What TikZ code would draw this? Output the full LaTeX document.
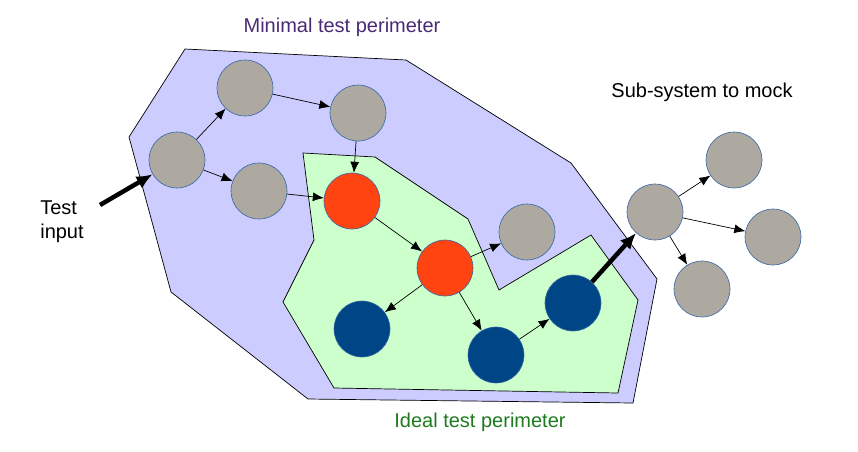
\documentclass[tikz,border=0pt]{standalone}
\usepackage{fontspec}
\setmainfont{Liberation Sans}
\usetikzlibrary{arrows.meta}
\definecolor{pblue}{HTML}{CCCCFF}
\definecolor{pgreen}{HTML}{CCFFCC}
\definecolor{cgray}{HTML}{ADA8A0}
\definecolor{cred}{HTML}{FF4411}
\definecolor{cnavy}{HTML}{004586}
\definecolor{cedge}{HTML}{3465A4}
\definecolor{tpurple}{HTML}{4B2A75}
\definecolor{tgreen}{HTML}{1E7A1E}
\begin{document}
\begin{tikzpicture}[x=1pt,y=-1pt,
 c/.style={circle,minimum size=56pt,inner sep=0pt,draw=cedge,line width=0.6pt},
 g/.style={c,fill=cgray}, r/.style={c,fill=cred}, b/.style={c,fill=cnavy},
 ar/.style={-{Latex[length=11pt,width=9pt]},line width=0.7pt},
 big/.style={-{Latex[length=16pt,width=14pt]},line width=4.5pt},
 lbl/.style={font=\fontsize{20}{24}\selectfont,inner sep=0pt}]
\useasboundingbox (0,0) rectangle (858,451);
\filldraw[fill=pblue,draw=black,line width=0.7pt] (185,49) -- (406,60) -- (571,163) -- (657,279) -- (633,403) -- (308,399) -- (171,292) -- (129,137) -- cycle;
\filldraw[fill=pgreen,draw=black,line width=0.7pt] (303,153) -- (375,157) -- (468,219) -- (499,290) -- (591,235) -- (638,300) -- (618,393) -- (334,388) -- (283,302) -- (314,240) -- cycle;
\node[g] (A) at (245,88) {};
\node[g] (B) at (358,113) {};
\node[g] (C) at (177,160) {};
\node[g] (D) at (259,191) {};
\node[r] (E) at (352,201) {};
\node[r] (F) at (445,268) {};
\node[g] (G) at (527,232) {};
\node[b] (H) at (362,329) {};
\node[b] (I) at (496,355) {};
\node[b] (J) at (573,303) {};
\node[g] (K) at (655,212) {};
\node[g] (L) at (734,160) {};
\node[g] (M) at (773,237) {};
\node[g] (N) at (702,289) {};
\coordinate (T) at (100,205);
\draw[ar] (C) -- (A);
\draw[ar] (A) -- (B);
\draw[ar] (C) -- (D);
\draw[ar] (B) -- (E);
\draw[ar] (D) -- (E);
\draw[ar] (E) -- (F);
\draw[ar] (F) -- (G);
\draw[ar] (F) -- (H);
\draw[ar] (F) -- (I);
\draw[ar] (I) -- (J);
\draw[ar] (K) -- (L);
\draw[ar] (K) -- (M);
\draw[ar] (K) -- (N);
\draw[big] (T) -- (C);
\draw[big] (J) -- (K);
\node[lbl,text=tpurple] (t1) at (342,27) {Minimal test perimeter};
\node[lbl] (t2) at (702,92) {Sub-system to mock};
\node[lbl,text=tgreen] (t3) at (480,422) {Ideal test perimeter};
\node[lbl,align=left] (t4) at (62,222) {Test\\input};
\end{tikzpicture}
\end{document}
